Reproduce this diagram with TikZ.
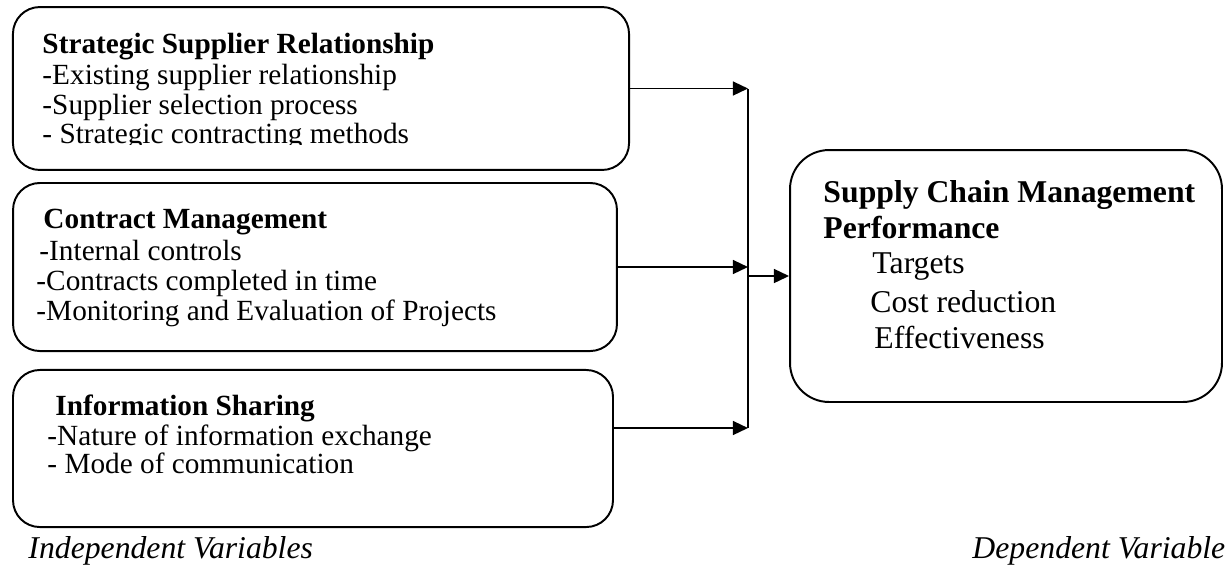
\documentclass[tikz,border=0pt]{standalone}
\usepackage{fontspec}
\setmainfont{Liberation Serif}
\usetikzlibrary{arrows.meta,positioning}

\begin{document}
\begin{tikzpicture}
  [
   x=0.41pt, y=-0.41pt,
   bx/.style={draw,thick,rounded corners=11pt,inner sep=0pt},
   tx/.style={anchor=base west,inner sep=0pt,font=\fontsize{12}{14}\selectfont},
   hd/.style={tx,font=\fontsize{12}{14}\selectfont\bfseries},
   big/.style={anchor=base west,inner sep=0pt,font=\fontsize{13}{15}\selectfont},
   bighd/.style={big,font=\fontsize{13}{15}\selectfont\bfseries},
   lbl/.style={anchor=base west,inner sep=0pt,font=\fontsize{13}{15}\selectfont\itshape},
   arr/.style={thick,-{Triangle[length=6.2pt,width=5.7pt]}}
  ]
   \useasboundingbox (0,0) rectangle (1225,565);

   % boxes
   \node[bx,minimum width=252.6pt,minimum height=66.8pt] (ssr) at (321,88.5) {};
   \node[bx,minimum width=247.6pt,minimum height=68.9pt] (cm) at (315,267) {};
   \node[bx,minimum width=246pt,minimum height=64.4pt] (is) at (313,448.5) {};
   \node[bx,rounded corners=16pt,minimum width=177.1pt,minimum height=103.3pt] (scm) at (1006,276) {};

   % box texts
   \node[hd] (ssr0) at (42,53) {Strategic Supplier Relationship};
   \node[tx] (ssr1) at (42,84) {-Existing supplier relationship};
   \node[tx] (ssr2) at (42,114) {-Supplier selection process};
   \begin{scope}
     \clip (0,0) rectangle (640,144);
     \node[tx] (ssr3) at (42,143) {- Strategic contracting methods};
   \end{scope}

   \node[hd] (cm0) at (43,228) {Contract Management};
   \node[tx] (cm1) at (39,260) {-Internal controls};
   \node[tx] (cm2) at (36,290) {-Contracts completed in time};
   \node[tx] (cm3) at (36,320) {-Monitoring and Evaluation of Projects};

   \node[hd] (is0) at (55,415) {Information Sharing};
   \node[tx] (is1) at (47,445) {-Nature of information exchange};
   \node[tx] (is2) at (47,473) {- Mode of communication};

   \node[bighd] (scm0) at (823,202) {Supply Chain Management};
   \node[bighd] (scm1) at (823,238) {Performance};
   \node[big] (scm2) at (872,273) {Targets};
   \node[big] (scm3) at (870,312) {Cost reduction};
   \node[big] (scm4) at (874,348) {Effectiveness};

   \node[lbl] (indep) at (28,558) {Independent Variables};
   \node[lbl] (dep) at (972,558) {Dependent Variable};

   % connectors
   \coordinate (top) at (748,89);
   \coordinate (bot) at (748,428);
   \draw[thick] (top) -- (bot);
   \draw[arr] (ssr.east) -- (ssr.east -| top);
   \draw[arr] (cm.east) -- (cm.east -| top);
   \draw[arr] (is.east |- bot) -- (bot);
   \draw[arr] (top |- scm.west) -- (scm.west);

\end{tikzpicture}
\end{document}
